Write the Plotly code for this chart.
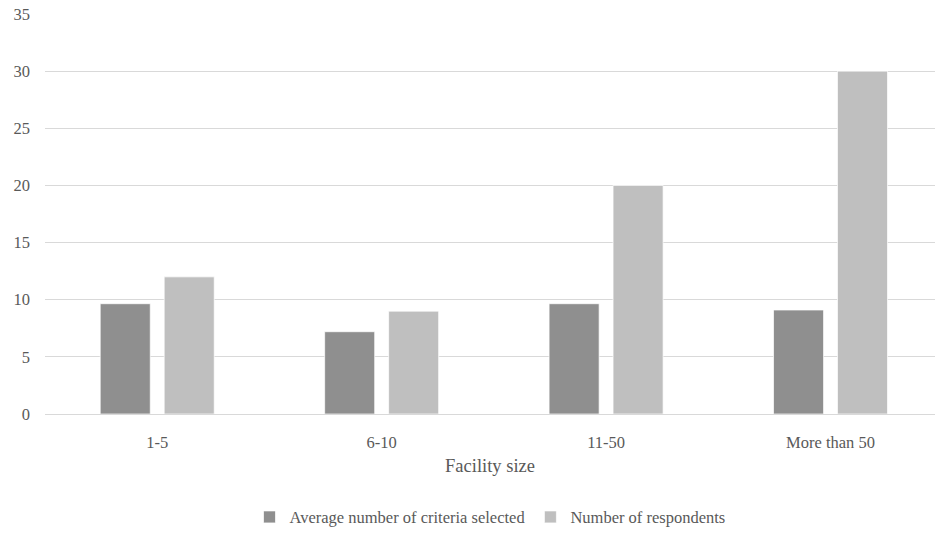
import plotly.graph_objects as go

categories = ["1-5", "6-10", "11-50", "More than 50"]
avg_criteria = [9.65, 7.2, 9.65, 9.1]
respondents = [12, 9, 20, 30]
series_names = ["Average number of criteria selected", "Number of respondents"]
y_ticks = [0, 5, 10, 15, 20, 25, 30, 35]

font_family = "Liberation Serif"
text_color = "#595959"

fig = go.Figure()
fig.add_trace(go.Bar(
    x=categories, y=avg_criteria, name=series_names[0],
    marker=dict(color="#8f8f8f", line=dict(color="rgba(255,255,255,0.7)", width=1)),
    width=0.223, offset=-0.254,
))
fig.add_trace(go.Bar(
    x=categories, y=respondents, name=series_names[1],
    marker=dict(color="#bfbfbf", line=dict(color="rgba(255,255,255,0.7)", width=1)),
    width=0.223, offset=0.031,
))

fig.update_layout(
    width=935, height=535,
    margin=dict(l=45, r=0, t=14, b=116),
    plot_bgcolor="white", paper_bgcolor="white",
    font=dict(family=font_family, size=16.5, color=text_color),
    barmode="group",
    showlegend=True,
    legend=dict(orientation="h", x=0.5, xanchor="center", y=-0.258, yanchor="middle",
                font=dict(family=font_family, size=16.5, color=text_color), itemwidth=30,
                traceorder="normal"),
    xaxis=dict(
        range=[-0.5, 3.4655], showgrid=False, zeroline=False, showline=False,
        ticks="", ticklabelstandoff=16,
        tickfont=dict(family=font_family, size=16.5, color=text_color),
        title=dict(text="Facility size", font=dict(family=font_family, size=18.5, color=text_color), standoff=8),
    ),
    yaxis=dict(
        range=[0, 35], tickvals=y_ticks, showgrid=True, gridcolor="#d9d9d9", gridwidth=1.3,
        zeroline=True, zerolinecolor="#d9d9d9", zerolinewidth=1.3,
        tickfont=dict(family=font_family, size=16.5, color=text_color),
        showline=False, ticks="", ticklabelstandoff=14,
    ),
)

fig.write_html("out.html")
